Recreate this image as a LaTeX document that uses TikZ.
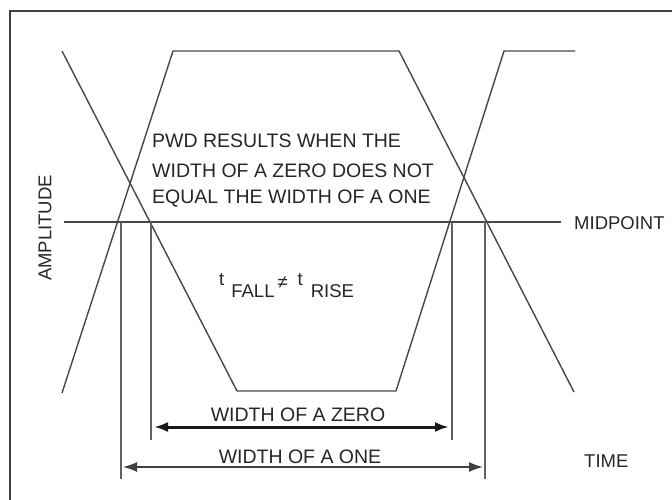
\documentclass[tikz,border=0pt]{standalone}
\usepackage{fontspec}
\setmainfont{Liberation Sans}
\usetikzlibrary{arrows.meta}
\begin{document}
\begin{tikzpicture}[x=1pt,y=-1pt,
  wave/.style={draw=black!72, line width=1.4pt, line join=round},
  frame/.style={draw=black!75, line width=2pt},
  vline/.style={draw=black!62, line width=1.5pt},
  lbl/.style={inner sep=0pt, text=black!85, font=\fontsize{18.5}{22}\selectfont},
  big/.style={font=\fontsize{19.5}{23}\selectfont},
  dimzero/.style={draw=black!90, line width=3pt, shorten <=3pt, shorten >=3pt,
    {Latex[length=14pt,width=10pt]}-{Latex[length=14pt,width=10pt]}},
  dimone/.style={draw=black!75, line width=1.5pt, shorten <=2pt, shorten >=2pt,
    {Latex[length=14pt,width=10pt]}-{Latex[length=14pt,width=10pt]}}]
\useasboundingbox (0,0) rectangle (672,500);
\fill[white] (0,0) rectangle (672,500);
% frame (cut off at right and bottom)
\draw[frame] (10,500) -- (10,11) -- (672,11);
% waveforms
\draw[wave] (62,51) -- (237,391) -- (396,391) -- (504,51) -- (575,51);
\draw[wave] (62,393) -- (173,51) -- (399,51) -- (574,392);
% midpoint line
\coordinate (m1) at (64,222);
\coordinate (m2) at (561,222);
\draw[wave] (m1) -- (m2);
\node[lbl, anchor=base west] (mid) at (574,229) {MIDPOINT};
% vertical reference lines
\coordinate (o1t) at (121,222); \coordinate (o1b) at (121,479);
\coordinate (z1t) at (151,222); \coordinate (z1b) at (151,440);
\coordinate (z2t) at (452,222); \coordinate (z2b) at (452,440);
\coordinate (o2t) at (485,222); \coordinate (o2b) at (485,479);
\draw[vline] (o1t) -- (o1b);
\draw[vline] (z1t) -- (z1b);
\draw[vline] (z2t) -- (z2b);
\draw[vline] (o2t) -- (o2b);
% dimension arrows
\coordinate (zl) at (151,427); \coordinate (zr) at (452,427);
\coordinate (ol) at (121,467); \coordinate (or) at (485,467);
\draw[dimzero] (zl) -- (zr);
\draw[dimone] (ol) -- (or);
\node[lbl, big, anchor=base] (wz) at (298,421) {WIDTH OF A ZERO};
\node[lbl, big, anchor=base] (wo) at (300,463) {WIDTH OF A ONE};
% texts
\node[lbl, big, anchor=base west] (p1) at (152,148) {PWD RESULTS WHEN THE};
\node[lbl, big, anchor=base west] (p2) at (152,177) {WIDTH OF A ZERO DOES NOT};
\node[lbl, big, anchor=base west] (p3) at (152,204) {EQUAL THE WIDTH OF A ONE};
\node[lbl, anchor=base west] (tf) at (219,285) {t\hspace{7pt}\raisebox{-12pt}{FALL}\hspace{3pt}\raisebox{-3pt}{≠}\hspace{10pt}t\hspace{8pt}\raisebox{-12pt}{RISE}};
\node[lbl, anchor=base west] (time) at (584,467) {TIME};
\node[lbl, rotate=90] (amp) at (45,228) {AMPLITUDE};
\end{tikzpicture}
\end{document}
